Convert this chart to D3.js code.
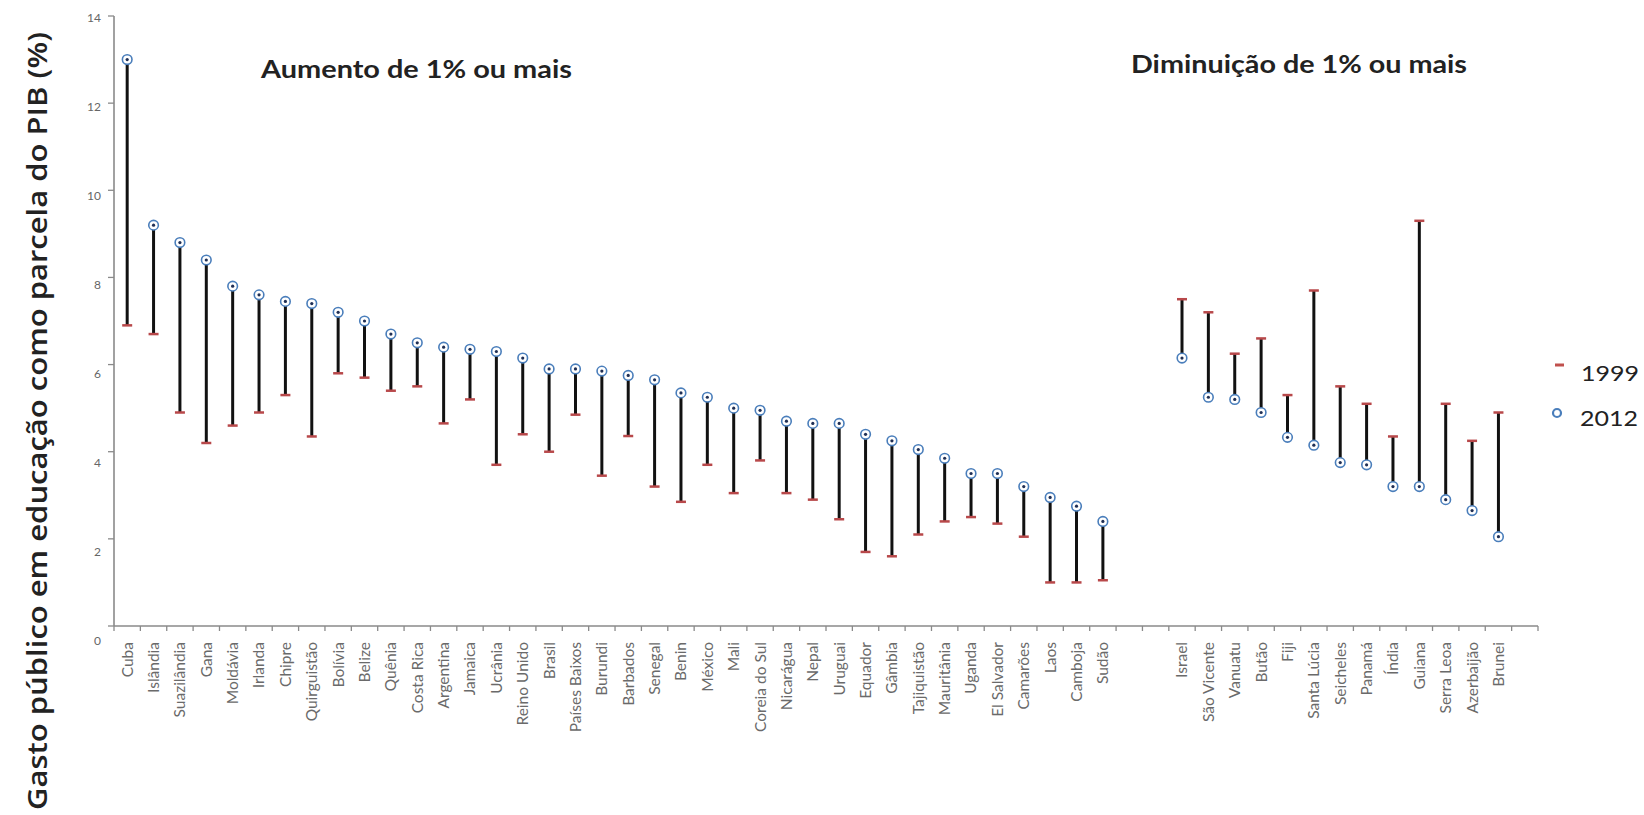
<!DOCTYPE html>
<html>
<head>
<meta charset="utf-8">
<script src="https://cdn.jsdelivr.net/npm/d3@7"></script>
<style>
  html, body { margin: 0; padding: 0; background: #fff; }
  svg { display: block; }
</style>
</head>
<body>
<svg id="chart" width="1644" height="815"></svg>
<script>
// ---- data ----
const leftCountries = ["Cuba","Islândia","Suazilândia","Gana","Moldávia","Irlanda","Chipre","Quirguistão","Bolívia","Belize","Quênia","Costa Rica","Argentina","Jamaica","Ucrânia","Reino Unido","Brasil","Países Baixos","Burundi","Barbados","Senegal","Benin","México","Mali","Coreia do Sul","Nicarágua","Nepal","Uruguai","Equador","Gâmbia","Tajiquistão","Mauritânia","Uganda","El Salvador","Camarões","Laos","Camboja","Sudão"];
const left1999 = [6.9,6.7,4.9,4.2,4.6,4.9,5.3,4.35,5.8,5.7,5.4,5.5,4.65,5.2,3.7,4.4,4.0,4.85,3.45,4.36,3.2,2.85,3.7,3.05,3.8,3.05,2.9,2.45,1.7,1.6,2.1,2.4,2.5,2.35,2.05,1.0,1.0,1.05];
const left2012 = [13.0,9.2,8.8,8.4,7.8,7.6,7.45,7.4,7.2,7.0,6.7,6.5,6.4,6.35,6.3,6.15,5.9,5.9,5.85,5.75,5.65,5.35,5.25,5.0,4.95,4.7,4.65,4.65,4.4,4.25,4.05,3.85,3.5,3.5,3.2,2.95,2.75,2.4];

const rightCountries = ["Israel","São Vicente","Vanuatu","Butão","Fiji","Santa Lúcia","Seicheles","Panamá","Índia","Guiana","Serra Leoa","Azerbaijão","Brunei"];
const right1999 = [7.5,7.2,6.25,6.6,5.3,7.7,5.5,5.1,4.35,9.3,5.1,4.25,4.9];
const right2012 = [6.15,5.25,5.2,4.9,4.33,4.15,3.75,3.7,3.2,3.2,2.9,2.65,2.05];

const gapSlotsMiddle = ["", " "];
const gapSlotsEnd = ["  "];
const yTicks = [0,2,4,6,8,10,12,14];
const seriesNames = ["1999","2012"];
const groupTitles = ["Aumento de 1% ou mais","Diminuição de 1% ou mais"];
const yTitle = "Gasto público em educação como parcela do PIB (%)";

// ---- build ----
const rows = leftCountries.map((c,i)=>({c, v99:left1999[i], v12:left2012[i]}))
  .concat(rightCountries.map((c,i)=>({c, v99:right1999[i], v12:right2012[i]})));
const domain = leftCountries.concat(gapSlotsMiddle, rightCountries, gapSlotsEnd);

const svg = d3.select("#chart");
const x = d3.scaleBand().domain(domain).range([114, 1538]).paddingInner(0).paddingOuter(0);
const y = d3.scaleLinear().domain([0,14]).range([626, 16]);
const yLab = d3.scaleLinear().domain([0,14]).range([641, 18]);

const axisColor = "#8a8a8a";

// y axis line + ticks
svg.append("line").attr("x1",114).attr("x2",114).attr("y1",y(14)).attr("y2",y(0))
  .attr("stroke",axisColor).attr("stroke-width",1.6);
svg.selectAll(".ytick").data(yTicks).join("line")
  .attr("x1",108).attr("x2",114).attr("y1",d=>y(d)).attr("y2",d=>y(d))
  .attr("stroke",axisColor).attr("stroke-width",1.3);
svg.selectAll(".ylab").data(yTicks).join("text")
  .attr("x",101).attr("y",d=>yLab(d)).attr("dy","0.35em")
  .attr("text-anchor","end").attr("font-family","Lato, 'Open Sans', sans-serif")
  .attr("font-size",12).attr("fill","#666").text(d=>d);

// x axis line + boundary ticks
svg.append("line").attr("x1",x.range()[0]).attr("x2",x.range()[1]).attr("y1",y(0)).attr("y2",y(0))
  .attr("stroke",axisColor).attr("stroke-width",1.6);
svg.selectAll(".xtick").data(d3.range(domain.length+1)).join("line")
  .attr("x1",i=>x.range()[0]+i*x.step()).attr("x2",i=>x.range()[0]+i*x.step())
  .attr("y1",y(0)).attr("y2",y(0)+5)
  .attr("stroke",axisColor).attr("stroke-width",1.3);

// x labels
svg.selectAll(".xlab").data(rows).join("text")
  .attr("transform",d=>`translate(${x(d.c)+x.bandwidth()/2},642) rotate(-90)`)
  .attr("dy","0.35em").attr("text-anchor","end")
  .attr("font-family","Lato, 'Open Sans', sans-serif").attr("font-size",15.5)
  .attr("fill","#6a6a6a").text(d=>d.c);

// stems
svg.selectAll(".stem").data(rows).join("line")
  .attr("x1",d=>x(d.c)+x.bandwidth()/2).attr("x2",d=>x(d.c)+x.bandwidth()/2)
  .attr("y1",d=>y(d.v99)).attr("y2",d=>y(d.v12))
  .attr("stroke","#111").attr("stroke-width",3);

// 1999 markers (red dash)
svg.selectAll(".m99").data(rows).join("line")
  .attr("x1",d=>x(d.c)+x.bandwidth()/2-5).attr("x2",d=>x(d.c)+x.bandwidth()/2+5)
  .attr("y1",d=>y(d.v99)).attr("y2",d=>y(d.v99))
  .attr("stroke","#b8484a").attr("stroke-width",2.5);

// 2012 markers (blue open circle with dark centre)
svg.selectAll(".m12").data(rows).join("circle")
  .attr("cx",d=>x(d.c)+x.bandwidth()/2).attr("cy",d=>y(d.v12)).attr("r",4.8)
  .attr("fill","#fff").attr("stroke","#4a7ebb").attr("stroke-width",1.6);
svg.selectAll(".m12c").data(rows).join("circle")
  .attr("cx",d=>x(d.c)+x.bandwidth()/2).attr("cy",d=>y(d.v12)).attr("r",1.6)
  .attr("fill","#1f2f55");

// group titles
svg.append("text").attr("x",261).attr("y",78).attr("font-family","Lato, 'Open Sans', sans-serif")
  .attr("font-weight","bold").attr("font-size",25).attr("fill","#222")
  .attr("textLength",311).attr("lengthAdjust","spacingAndGlyphs").text(groupTitles[0]);
svg.append("text").attr("x",1131).attr("y",73).attr("font-family","Lato, 'Open Sans', sans-serif")
  .attr("font-weight","bold").attr("font-size",25).attr("fill","#222")
  .attr("textLength",336).attr("lengthAdjust","spacingAndGlyphs").text(groupTitles[1]);

// y title
svg.append("text").attr("transform","translate(47,32) rotate(-90)")
  .attr("text-anchor","end").attr("font-family","'Open Sans', Lato, sans-serif")
  .attr("font-weight",600).attr("font-size",27).attr("fill","#222")
  .attr("textLength",778).attr("lengthAdjust","spacingAndGlyphs").text(yTitle);

// legend
const lg = svg.append("g");
lg.append("line").attr("x1",1555).attr("x2",1564).attr("y1",365).attr("y2",365)
  .attr("stroke","#c0504d").attr("stroke-width",3);
lg.append("text").attr("x",1581).attr("y",373).attr("dy","0.35em")
  .attr("font-family","Lato, 'Open Sans', sans-serif").attr("font-size",22).attr("fill","#222")
  .attr("textLength",58).attr("lengthAdjust","spacingAndGlyphs").text(seriesNames[0]);
lg.append("circle").attr("cx",1557).attr("cy",413).attr("r",4)
  .attr("fill","#fff").attr("stroke","#4a7ebb").attr("stroke-width",2.2);
lg.append("text").attr("x",1580).attr("y",418).attr("dy","0.35em")
  .attr("font-family","Lato, 'Open Sans', sans-serif").attr("font-size",22).attr("fill","#222")
  .attr("textLength",58).attr("lengthAdjust","spacingAndGlyphs").text(seriesNames[1]);
</script>
</body>
</html>
